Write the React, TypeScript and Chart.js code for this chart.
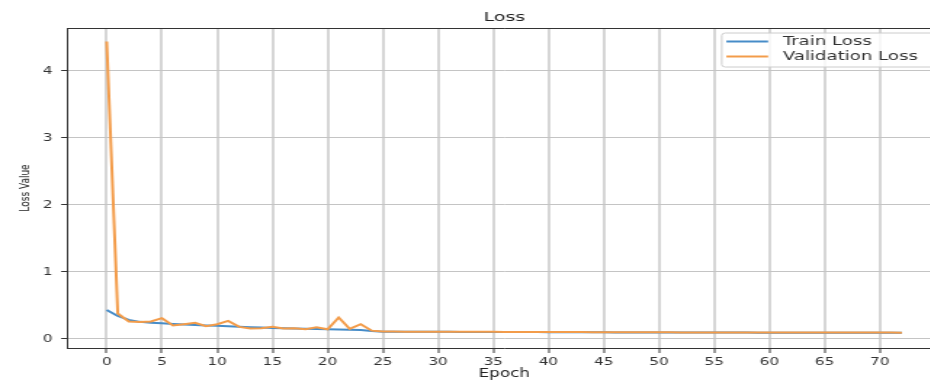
import { useEffect, useRef } from "react";
import { Chart, registerables } from "chart.js";

Chart.register(...registerables);

// The reference picture is stretched horizontally; draw on a narrower canvas and stretch it.
const S = 930 / 640;
const CANVAS_W = 652;
const CANVAS_H = 381;

const epochs = [
  0, 1, 2, 3, 4, 5, 6, 7, 8, 9, 10, 11, 12, 13, 14, 15, 16, 17, 18, 19, 20, 21, 22, 23, 24,
  25, 26, 27, 28, 29, 30, 31, 32, 33, 34, 35, 36, 37, 38, 39, 40, 41, 42, 43, 44, 45, 46, 47, 48,
  49, 50, 51, 52, 53, 54, 55, 56, 57, 58, 59, 60, 61, 62, 63, 64, 65, 66, 67, 68, 69, 70, 71, 72,
];

const trainLoss = [
  0.433, 0.343, 0.284, 0.255, 0.243, 0.233, 0.224, 0.216,
  0.209, 0.202, 0.196, 0.19, 0.182, 0.175, 0.17, 0.165,
  0.16, 0.156, 0.152, 0.148, 0.145, 0.142, 0.139, 0.134,
  0.12,
  0.108, 0.108, 0.107, 0.107, 0.107, 0.106, 0.106, 0.105,
  0.105, 0.104, 0.104, 0.103, 0.103, 0.102, 0.102, 0.101,
  0.101, 0.1, 0.1, 0.099, 0.099, 0.098, 0.098, 0.098,
  0.097, 0.097, 0.097, 0.096, 0.096, 0.096, 0.095, 0.095,
  0.095, 0.095, 0.094, 0.094, 0.094, 0.094, 0.094, 0.093,
  0.093, 0.093, 0.093, 0.093, 0.093, 0.093, 0.093, 0.092,
];

const validationLoss = [
  4.44, 0.38, 0.26, 0.254, 0.26, 0.31, 0.2, 0.22,
  0.24, 0.19, 0.22, 0.27, 0.18, 0.155, 0.16, 0.18,
  0.155, 0.16, 0.145, 0.175, 0.145, 0.32, 0.15, 0.22,
  0.124,
  0.11, 0.11, 0.109, 0.109, 0.109, 0.108, 0.108, 0.107,
  0.107, 0.106, 0.106, 0.105, 0.105, 0.104, 0.104, 0.103,
  0.103, 0.102, 0.102, 0.101, 0.101, 0.1, 0.1, 0.1,
  0.099, 0.099, 0.099, 0.098, 0.098, 0.098, 0.097, 0.097,
  0.097, 0.097, 0.096, 0.096, 0.096, 0.096, 0.096, 0.095,
  0.095, 0.095, 0.095, 0.095, 0.095, 0.095, 0.095, 0.094,
];

const xTicks = [0, 5, 10, 15, 20, 25, 30, 35, 40, 45, 50, 55, 60, 65, 70];
const yTicks = [0, 1, 2, 3, 4];

const seriesLabels = ["Train Loss", "Validation Loss"];
const seriesColors = ["#468cc8", "#f39c4a"];

const TEXT = "#333333";
const FONT = "'DejaVu Sans', 'Noto Sans', sans-serif";

const framePlugin = {
  id: "mplFrame",
  afterDatasetsDraw(chart: any) {
    const { ctx, chartArea } = chart;
    ctx.save();
    ctx.strokeStyle = "#333333";
    ctx.lineWidth = 1;
    ctx.beginPath();
    ctx.moveTo(chartArea.left, Math.round(chartArea.top) + 0.5);
    ctx.lineTo(chartArea.right, Math.round(chartArea.top) + 0.5);
    ctx.moveTo(Math.round(chartArea.right) + 0.5, chartArea.top);
    ctx.lineTo(Math.round(chartArea.right) + 0.5, chartArea.bottom);
    ctx.stroke();
    ctx.restore();
  },
};

const legendPlugin = {
  id: "mplLegend",
  afterDraw(chart: any) {
    const { ctx, chartArea } = chart;
    const right = chartArea.right - 4.3;
    const left = right - 147.1;
    const top = chartArea.top + 5;
    const bottom = chartArea.top + 39;
    ctx.save();
    ctx.beginPath();
    ctx.roundRect(left, top, right - left, bottom - top, 2.5);
    ctx.fillStyle = "rgba(255,255,255,0.8)";
    ctx.fill();
    ctx.strokeStyle = "#cccccc";
    ctx.lineWidth = 1;
    ctx.stroke();
    chart.data.datasets.forEach((ds: any, i: number) => {
      const y = chartArea.top + 13.5 + i * 15;
      ctx.strokeStyle = ds.borderColor;
      ctx.lineWidth = 2;
      ctx.beginPath();
      ctx.moveTo(left + 3.2, y);
      ctx.lineTo(left + 31.9, y);
      ctx.stroke();
      ctx.fillStyle = TEXT;
      ctx.font = `12.5px ${FONT}`;
      ctx.textBaseline = "middle";
      ctx.textAlign = "left";
      ctx.fillText(ds.label, left + 42, y);
    });
    ctx.restore();
  },
};

export default function App() {
  const canvasRef = useRef<HTMLCanvasElement | null>(null);

  useEffect(() => {
    const canvas = canvasRef.current;
    if (!canvas) return;
    const chart = new Chart(canvas, {
      type: "line",
      data: {
        datasets: [
          {
            label: seriesLabels[0],
            data: epochs.map((e, i) => ({ x: e, y: trainLoss[i] })),
            borderColor: seriesColors[0],
            backgroundColor: seriesColors[0],
            borderWidth: 2,
            pointRadius: 0,
            tension: 0,
            order: 2,
          },
          {
            label: seriesLabels[1],
            data: epochs.map((e, i) => ({ x: e, y: validationLoss[i] })),
            borderColor: seriesColors[1],
            backgroundColor: seriesColors[1],
            borderWidth: 2,
            pointRadius: 0,
            tension: 0,
            order: 1,
          },
        ],
      },
      options: {
        animation: false,
        responsive: false,
        devicePixelRatio: 1,
        layout: { padding: { left: 0, right: 3.7, top: 0, bottom: 0 } },
        plugins: {
          legend: { display: false },
          tooltip: { enabled: false },
          title: {
            display: true,
            text: "Loss",
            fullSize: false,
            color: "#222222",
            font: { family: FONT, size: 13, weight: "normal", lineHeight: 1.2 },
            padding: { top: 10, bottom: 2.4 },
          },
        },
        scales: {
          x: {
            type: "linear",
            min: -3.6,
            max: 75.6,
            afterFit: (scale: any) => {
              scale.height = 33;
            },
            afterBuildTicks: (scale: any) => {
              scale.ticks = xTicks.map((v) => ({ value: v }));
            },
            ticks: {
              color: TEXT,
              font: { family: FONT, size: 10.5 },
              padding: 3,
              maxRotation: 0,
              autoSkip: false,
            },
            grid: {
              color: "#d6d6d6",
              lineWidth: 2,
              tickColor: "#333333",
              tickLength: 5,
              tickWidth: 1,
            },
            border: { display: true, color: "#333333", width: 1 },
            title: {
              display: true,
              text: "Epoch",
              color: "#222222",
              font: { family: FONT, size: 11.5, lineHeight: 1.2 },
              padding: { top: 0, bottom: 0 },
            },
          },
          y: {
            type: "linear",
            min: -0.135,
            max: 4.64,
            afterFit: (scale: any) => {
              scale.width = 46.1;
            },
            afterBuildTicks: (scale: any) => {
              scale.ticks = yTicks.map((v) => ({ value: v }));
            },
            ticks: {
              color: TEXT,
              font: { family: FONT, size: 10.5 },
              padding: 6,
            },
            grid: {
              color: "#c4c4c4",
              lineWidth: 1,
              tickColor: "#333333",
              tickLength: 4,
              tickWidth: 1,
            },
            border: { display: true, color: "#333333", width: 1 },
            title: {
              display: true,
              text: "Loss Value",
              color: "#222222",
              font: { family: FONT, size: 9, lineHeight: 1.2 },
              padding: { top: 11.8, bottom: 0 },
            },
          },
        },
      },
      plugins: [framePlugin, legendPlugin],
    } as any);
    return () => chart.destroy();
  }, []);

  return (
    <div
      style={{
        position: "fixed",
        left: 0,
        top: 0,
        width: 930,
        height: CANVAS_H,
        overflow: "hidden",
        background: "#ffffff",
      }}
    >
      <canvas
        ref={canvasRef}
        width={CANVAS_W}
        height={CANVAS_H}
        style={{ width: `${CANVAS_W * S}px`, height: `${CANVAS_H}px`, display: "block" }}
      />
    </div>
  );
}
